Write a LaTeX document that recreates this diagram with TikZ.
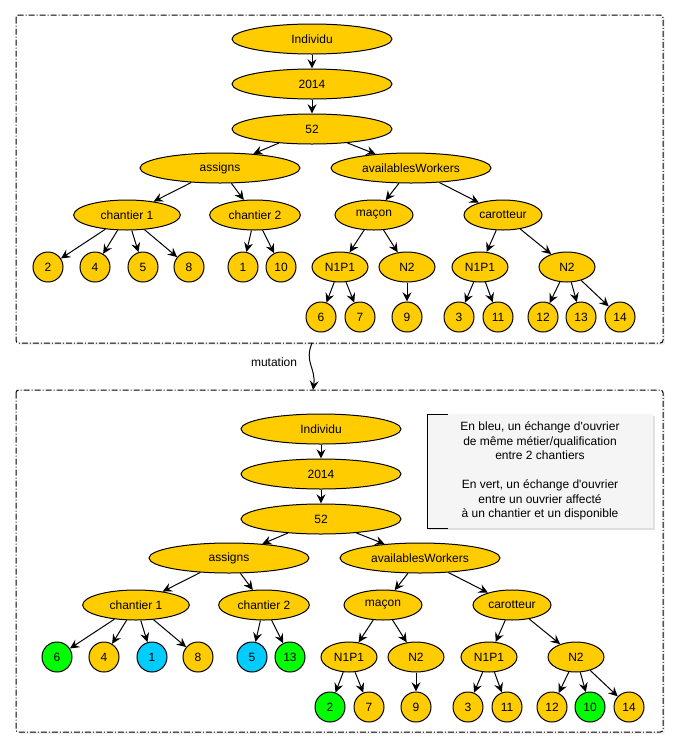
\documentclass[tikz,border=0pt]{standalone}
\usepackage{fontspec}
\setmainfont{Liberation Sans}[Ligatures=TeXOff]
\usepackage{tikz}
\usetikzlibrary{shapes.geometric,arrows.meta,shadows}
\definecolor{jaune}{HTML}{FFCC00}
\definecolor{vert}{HTML}{00FF00}
\definecolor{bleu}{HTML}{00CCFF}
\definecolor{gris}{HTML}{F5F5F5}
\tikzstyle{noeud}   = [ellipse,draw,fill=jaune,inner sep=0,minimum height=22.5pt]
\tikzstyle{grand}   = [noeud,minimum width=120pt]
\tikzstyle{moyen}   = [noeud,minimum width=58.5pt]
\tikzstyle{petit}   = [noeud,minimum width=42pt]
\tikzstyle{feuille} = [noeud,minimum width=22.5pt]
\tikzstyle{fleche}  = [-{Stealth[length=7pt,width=6.75pt,inset=2.5pt]}]
\tikzstyle{cadre}   = [draw,dash pattern=on 4.5pt off 1.5pt on 0.75pt off 1.5pt,rounded corners=2pt,fill=white,
                       drop shadow={opacity=0.12,shadow xshift=1.5pt,shadow yshift=-1.5pt}]

\begin{document}
\begin{tikzpicture}[x=0.75pt,y=-0.75pt,line width=0.75pt,
                    font={\fontsize{9}{10.9}\selectfont}
                    ]
\useasboundingbox (0,0) rectangle (680,747);

    % les deux cadres
    \draw[cadre] (16,15) rectangle (663,343);
    \draw[cadre] (16,390) rectangle (663,732);

    % mutation
    \coordinate (m1) at (312,343);
    \coordinate (m2) at (313,390);
    \draw[fleche] (m1) .. controls (304,362) and (316,368) .. (m2);
    \node (mutation) [anchor=east] at (302,362) {mutation};

    % individu avant
    \node (indiv)   [grand] at (312,39)  {Individu};
    \node (annee)   [grand] at (312,84)  {2014};
    \node (semaine) [grand] at (312,129) {52};
    \node (assigns) [grand] at (220,168) {assigns};
    \node (dispo)   [grand] at (411,168) {availablesWorkers};
    \node (ch1)     [noeud,minimum width=80pt] at (127,215) {chantier 1};
    \node (ch2)     [noeud,minimum width=68pt] at (255,215) {chantier 2};
    \node (macon)   [moyen] at (374,215) {maçon};
    \node (carot)   [moyen] at (503,215) {carotteur};
    \node (mN1)     [petit] at (340,267) {N1P1};
    \node (mN2)     [petit] at (407,267) {N2};
    \node (cN1)     [petit] at (480,267) {N1P1};
    \node (cN2)     [petit] at (567,267) {N2};
    \node (f1)  [feuille] at (48,267)  {2};
    \node (f2)  [feuille] at (95,267)  {4};
    \node (f3)  [feuille] at (143,267) {5};
    \node (f4)  [feuille] at (189,267) {8};
    \node (f5)  [feuille] at (243,267) {1};
    \node (f6)  [feuille] at (281,267) {10};
    \node (f7)  [feuille] at (321,317) {6};
    \node (f8)  [feuille] at (360,317) {7};
    \node (f9)  [feuille] at (407,317) {9};
    \node (f10) [feuille] at (459,317) {3};
    \node (f11) [feuille] at (498,317) {11};
    \node (f12) [feuille] at (543,317) {12};
    \node (f13) [feuille] at (581,317) {13};
    \node (f14) [feuille] at (620,317) {14};

    \draw[fleche] (indiv)--(annee);
    \draw[fleche] (annee)--(semaine);
    \draw[fleche] (semaine)--(assigns);
    \draw[fleche] (semaine)--(dispo);
    \draw[fleche] (assigns)--(ch1);
    \draw[fleche] (assigns)--(ch2);
    \draw[fleche] (dispo)--(macon);
    \draw[fleche] (dispo)--(carot);
    \draw[fleche] (ch1)--(f1);
    \draw[fleche] (ch1)--(f2);
    \draw[fleche] (ch1)--(f3);
    \draw[fleche] (ch1)--(f4);
    \draw[fleche] (ch2)--(f5);
    \draw[fleche] (ch2)--(f6);
    \draw[fleche] (macon)--(mN1);
    \draw[fleche] (macon)--(mN2);
    \draw[fleche] (carot)--(cN1);
    \draw[fleche] (carot)--(cN2);
    \draw[fleche] (mN1)--(f7);
    \draw[fleche] (mN1)--(f8);
    \draw[fleche] (mN2)--(f9);
    \draw[fleche] (cN1)--(f10);
    \draw[fleche] (cN1)--(f11);
    \draw[fleche] (cN2)--(f12);
    \draw[fleche] (cN2)--(f13);
    \draw[fleche] (cN2)--(f14);

    % legende
    \fill[gris,drop shadow={opacity=0.25,shadow xshift=1.5pt,shadow yshift=-1.5pt}] (427,414) rectangle (653,528);
    \draw (448,414) -- (427,414) -- (427,528) -- (448,528);
    \node (legende) [align=center] at (540,471) {En bleu, un échange d'ouvrier\\de même métier/qualification\\entre 2 chantiers\\[10.9pt]
        En vert, un échange d'ouvrier\\entre un ouvrier affecté\\à un chantier et un disponible};

    % individu apres
    \begin{scope}[shift={(9,390)}]
    \node (indivB)   [grand] at (312,39)  {Individu};
    \node (anneeB)   [grand] at (312,84)  {2014};
    \node (semaineB) [grand] at (312,129) {52};
    \node (assignsB) [grand] at (220,168) {assigns};
    \node (dispoB)   [grand] at (411,168) {availablesWorkers};
    \node (ch1B)     [noeud,minimum width=80pt] at (127,215) {chantier 1};
    \node (ch2B)     [noeud,minimum width=68pt] at (255,215) {chantier 2};
    \node (maconB)   [moyen] at (374,215) {maçon};
    \node (carotB)   [moyen] at (503,215) {carotteur};
    \node (mN1B)     [petit] at (340,267) {N1P1};
    \node (mN2B)     [petit] at (407,267) {N2};
    \node (cN1B)     [petit] at (480,267) {N1P1};
    \node (cN2B)     [petit] at (567,267) {N2};
    \node (f1B)  [feuille,fill=vert] at (48,267)  {6};
    \node (f2B)  [feuille] at (95,267)  {4};
    \node (f3B)  [feuille,fill=bleu] at (143,267) {1};
    \node (f4B)  [feuille] at (189,267) {8};
    \node (f5B)  [feuille,fill=bleu] at (243,267) {5};
    \node (f6B)  [feuille,fill=vert] at (281,267) {13};
    \node (f7B)  [feuille,fill=vert] at (321,317) {2};
    \node (f8B)  [feuille] at (360,317) {7};
    \node (f9B)  [feuille] at (407,317) {9};
    \node (f10B) [feuille] at (459,317) {3};
    \node (f11B) [feuille] at (498,317) {11};
    \node (f12B) [feuille] at (543,317) {12};
    \node (f13B) [feuille,fill=vert] at (581,317) {10};
    \node (f14B) [feuille] at (620,317) {14};
    \end{scope}

    \draw[fleche] (indivB)--(anneeB);
    \draw[fleche] (anneeB)--(semaineB);
    \draw[fleche] (semaineB)--(assignsB);
    \draw[fleche] (semaineB)--(dispoB);
    \draw[fleche] (assignsB)--(ch1B);
    \draw[fleche] (assignsB)--(ch2B);
    \draw[fleche] (dispoB)--(maconB);
    \draw[fleche] (dispoB)--(carotB);
    \draw[fleche] (ch1B)--(f1B);
    \draw[fleche] (ch1B)--(f2B);
    \draw[fleche] (ch1B)--(f3B);
    \draw[fleche] (ch1B)--(f4B);
    \draw[fleche] (ch2B)--(f5B);
    \draw[fleche] (ch2B)--(f6B);
    \draw[fleche] (maconB)--(mN1B);
    \draw[fleche] (maconB)--(mN2B);
    \draw[fleche] (carotB)--(cN1B);
    \draw[fleche] (carotB)--(cN2B);
    \draw[fleche] (mN1B)--(f7B);
    \draw[fleche] (mN1B)--(f8B);
    \draw[fleche] (mN2B)--(f9B);
    \draw[fleche] (cN1B)--(f10B);
    \draw[fleche] (cN1B)--(f11B);
    \draw[fleche] (cN2B)--(f12B);
    \draw[fleche] (cN2B)--(f13B);
    \draw[fleche] (cN2B)--(f14B);

\end{tikzpicture}
\end{document}
